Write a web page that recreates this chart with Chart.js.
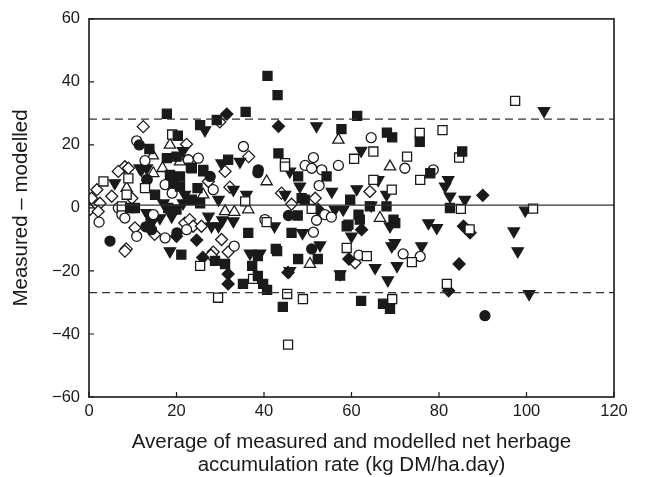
<!DOCTYPE html>
<html>
<head>
<meta charset="utf-8">
<script src="https://cdn.jsdelivr.net/npm/chart.js@4.4.1/dist/chart.umd.min.js"></script>
<style>
  html, body { margin: 0; padding: 0; background: #fff; }
  #wrap { width: 656px; height: 477px; }
</style>
</head>
<body>
<div id="wrap"><canvas id="baChart"></canvas></div>
<script>
// tick labels
const xTicks = [0, 20, 40, 60, 80, 100, 120];
const yTicks = [-60, -40, -20, 0, 20, 40, 60];

// mean difference and limits of agreement
const meanDiff = 0.9;
const upperLoA = 28.2;
const lowerLoA = -26.9;

// series, [average, difference]
const filledSquare = [
  [17.8,29.9],[40.8,41.9],[43.1,35.8],[35.8,30.5],[57.7,25],[61.3,29.2],[68.1,23.9],[69.3,22.4],
  [75.6,21],[85.3,17.9],[20.3,22.9],[13.8,18.7],[17.8,15.8],[20,16.3],[23.3,12.8],[26.1,12.1],
  [25.4,26.3],[29.2,27.9],[31.8,15.3],[43.3,17.3],[18.5,10.5],[20.8,10],[23.5,12.6],[26.1,11.6],
  [19.3,7.9],[20.8,6.8],[24.8,6.3],[15.1,4.2],[25.4,1.5],[23.5,2.6],[20,-0.5],[9.4,0],[10.5,0],
  [18.1,0],[47.8,10],[54.3,10],[48.6,3.1],[49.3,2.6],[47.7,-2.4],[36.4,-7.9],[46.3,-7.9],
  [42.7,-13],[58.9,-5.8],[59.7,2.6],[64.2,0.5],[68,0.5],[82.5,0],[59.3,-5.3],[61.6,-2.1],
  [61.9,-3.7],[69.6,-3.7],[70,-4.8],[78,11],[21.1,-14.8],[28.8,-16.8],[38.6,-15.3],[37.3,-18.4],
  [35.2,-24.1],[38.6,-21.6],[39.8,-24.1],[40.7,-26],[44.3,-31.4],[43,-13.7],[31.1,-17.8],
  [47.8,-16.2],[52.3,-16.2],[57.4,-21.5],[62.2,-29.5],[67.2,-30.4],[68.8,-32]
];
const openSquare = [
  [19,23.3],[44.8,14.2],[75.6,23.8],[80.8,24.7],[65,17.9],[60.6,15.6],[72.7,16.3],[84.6,16],
  [97.4,34],[101.5,-0.2],[87,-6.8],[81.8,-24.1],[69.3,-28.9],[73.8,-17.2],[63.5,-15.3],
  [37.5,-22.5],[29.5,-28.5],[45.3,-27.3],[48.9,-28.9],[45.5,-43.4],[25.4,-18.4],[3.3,8.4],
  [9,9.4],[8.6,4.2],[12.8,6.3],[7.5,0.5],[35.7,2.1],[40.6,-4.5],[50.9,-0.3],[58.9,-12.7],
  [44.8,13.1],[65,8.9],[75.7,8.9],[69.2,5.8],[85,-0.3]
];
const filledCircle = [
  [11.5,20],[13.3,9],[27.7,10],[38.6,11.2],[45.6,-2.4],[4.8,-10.5],[14.3,-6.9],[13,-6],
  [20.1,-7.9],[50.9,-13],[90.5,-34.2],[38.7,12.1]
];
const openCircle = [
  [10.9,21.3],[12.8,15],[22.7,15.3],[25,15.8],[35.3,19.5],[49.4,13.5],[51.3,16],[50.9,12.6],
  [53.2,12.1],[57,13.5],[64.5,22.3],[72.2,12.6],[78.7,12.1],[13.2,8.9],[17.4,7.4],[19,4.7],
  [28.4,5.8],[52.6,7.1],[6.7,0],[7.5,-2.1],[8.2,-3.2],[14.7,-2.1],[2.3,-4.5],[40.2,-3.7],
  [53.9,-2.1],[55.4,-2.9],[52,-3.9],[22.3,-6.9],[10.9,-9],[17.4,-9.5],[33.2,-12.1],[51.3,-7.7],
  [71.8,-14.6],[75.7,-15.4],[61.7,-15]
];
const filledTriDown = [
  [52,26],[21.5,18.1],[26.5,24.7],[62.2,18.2],[104,30.8],[11.6,12.6],[13.2,12.6],[12,12.1],
  [30.3,14.2],[34.5,14.7],[45.9,11.6],[5.9,7.9],[21.9,4.2],[21.5,1.5],[17,1.5],[13.2,-1.6],
  [13.9,-2.7],[16.2,-3.2],[18.9,-2.7],[14.3,-4.8],[28,-5.8],[27.3,-2.7],[18.5,-13.7],[48.2,6.8],
  [44.8,4.2],[33,5.8],[36,4.2],[29.6,2.6],[30.5,-3.9],[33,-4.2],[42.4,-5.8],[29.6,-5.8],
  [56.2,-0.5],[58.1,-0.5],[48.8,-7.9],[36.8,-14.4],[39.1,-14.4],[52.8,-11.8],[55.5,5.2],
  [66.1,8.9],[61.2,6],[68,4.2],[81.4,6.8],[82.5,3.7],[82.1,8.9],[85.9,2.6],[64.5,0.8],
  [68.8,-5.8],[60,-9],[77.6,-4.8],[79.5,-6.3],[69.9,-11.1],[69.2,-12.1],[76,-12.1],[65.4,-19],
  [70.4,-18.4],[68.3,-22.9],[57.4,-21],[45.9,-20],[99.7,-0.8],[97.1,-7.4],[98,-13.7],
  [100.6,-27.3]
];
const openTriUp = [
  [18.5,20],[14.6,16.6],[20.8,14.7],[16.8,12.6],[14.7,11],[8.6,6.3],[26.1,4.2],[40.6,8.4],
  [36.4,-0.5],[31.1,-1.1],[33.2,-1.3],[57,21.6],[68.8,13.1],[66.5,-3.2],[50.5,-17.8]
];
const filledDiamond = [
  [31.5,29.8],[43.3,25.9],[24.6,-10.2],[20,-9],[26,-15.7],[31.8,-21],[31.8,-24.1],[52.4,-0.5],
  [62.3,-6.9],[85.6,-5.8],[87.1,-7.9],[84.6,-17.8],[82.2,-26.3],[90,4],[59.4,-16.2],[45.5,-20.5]
];
const openDiamond = [
  [12.4,25.8],[22.3,20.2],[29.9,27.3],[36.5,16.3],[8.2,13.1],[6.7,11.6],[9,12.6],[1.8,5.8],
  [5.2,3.7],[0.6,3.1],[2.5,1.5],[0.2,-0.5],[2.1,-1.1],[9.8,3.1],[27.3,8.4],[31.1,11.6],
  [32.2,6.6],[44,4.7],[46.3,1.2],[51.7,3.1],[64.2,5.2],[21.9,-4.8],[23,-3.7],[23.8,-5.8],
  [25.7,-5.8],[10.5,-6.3],[15,-8.4],[8.5,-13],[28.4,-14],[30.3,-10],[31.8,-14],[27.9,-15],
  [60.8,-17.4],[8.2,-13.7]
];

const INK = '#1a1a1a';
const FONT = '"Liberation Sans", Arial, sans-serif';
const toXY = arr => arr.map(p => ({ x: p[0], y: p[1] }));

function marks(label, pts, style, filled, radius, rotation) {
  return {
    label: label,
    data: toXY(pts),
    pointStyle: style,
    pointRadius: radius,
    pointRotation: rotation || 0,
    pointBackgroundColor: filled ? INK : '#ffffff',
    pointBorderColor: INK,
    pointBorderWidth: 1.3,
    showLine: false
  };
}

function hline(label, yv, dash) {
  return {
    label: label,
    data: [{ x: xTicks[0], y: yv }, { x: xTicks[xTicks.length - 1], y: yv }],
    showLine: true,
    borderColor: '#333',
    borderWidth: 1.2,
    borderDash: dash,
    pointRadius: 0,
    fill: false
  };
}

// inward tick marks and frame round the plot
const frameTicks = {
  id: 'frameTicks',
  afterDatasetsDraw(chart) {
    const { ctx, chartArea: a, scales } = chart;
    ctx.save();
    ctx.strokeStyle = INK;
    ctx.lineWidth = 1.6;
    ctx.strokeRect(a.left, a.top, a.right - a.left, a.bottom - a.top);
    ctx.lineWidth = 1.2;
    ctx.beginPath();
    xTicks.forEach(v => {
      const px = scales.x.getPixelForValue(v);
      ctx.moveTo(px, a.bottom);
      ctx.lineTo(px, a.bottom - 5);
    });
    yTicks.forEach(v => {
      const py = scales.y.getPixelForValue(v);
      ctx.moveTo(a.left, py);
      ctx.lineTo(a.left + 5, py);
    });
    ctx.stroke();
    ctx.restore();
  }
};

new Chart(document.getElementById('baChart'), {
  type: 'scatter',
  data: {
    datasets: [
      hline('Mean', meanDiff, []),
      hline('Upper limit', upperLoA, [8, 5]),
      hline('Lower limit', lowerLoA, [8, 5]),
      marks('Series A', filledSquare, 'rect', true, 6.4),
      marks('Series B', openSquare, 'rect', false, 6.4),
      marks('Series C', filledCircle, 'circle', true, 5),
      marks('Series D', openCircle, 'circle', false, 5),
      marks('Series E', filledTriDown, 'triangle', true, 6.5, 180),
      marks('Series F', openTriUp, 'triangle', false, 6.5),
      marks('Series G', filledDiamond, 'rectRot', true, 6),
      marks('Series H', openDiamond, 'rectRot', false, 6)
    ]
  },
  options: {
    responsive: true,
    maintainAspectRatio: false,
    animation: false,
    layout: { padding: { left: 0, top: 17, right: 42, bottom: 0 } },
    plugins: {
      legend: { display: false },
      tooltip: { enabled: false }
    },
    scales: {
      x: {
        type: 'linear',
        min: 0,
        max: 120,
        afterFit: s => { s.height = 80; },
        afterBuildTicks: s => { s.ticks = xTicks.map(v => ({ value: v })); },
        grid: { display: false, drawTicks: false },
        border: { display: false },
        ticks: { color: INK, font: { family: FONT, size: 16.5 }, padding: 4.5, maxRotation: 0 },
        title: {
          display: true,
          text: ['Average of measured and modelled net herbage', 'accumulation rate (kg DM/ha.day)'],
          color: INK,
          font: { family: FONT, size: 20.5, lineHeight: 1.12 },
          padding: { top: 0, bottom: 0.5 }
        }
      },
      y: {
        type: 'linear',
        min: -60,
        max: 60,
        afterFit: s => { s.width = 89; },
        afterBuildTicks: s => { s.ticks = yTicks.map(v => ({ value: v })); },
        grid: { display: false, drawTicks: false },
        border: { display: false },
        ticks: {
          color: INK,
          font: { family: FONT, size: 16.5 },
          padding: 9,
          callback: v => String(v).replace('-', '\u2212')
        },
        title: {
          display: true,
          text: 'Measured \u2013 modelled',
          color: INK,
          font: { family: FONT, size: 20.5 },
          padding: { top: 8.7, bottom: 0 }
        }
      }
    }
  },
  plugins: [frameTicks]
});
</script>
</body>
</html>
